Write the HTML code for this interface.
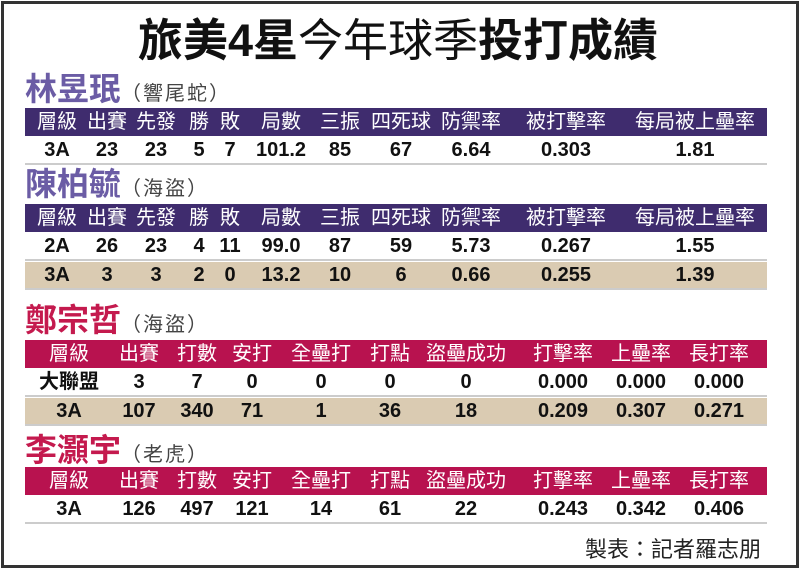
<!DOCTYPE html><html><head><meta charset="utf-8"><style>
body{margin:0;width:800px;height:567px;background:#fff;overflow:hidden;font-family:"Liberation Sans","Noto Sans CJK TC",sans-serif}
.frame{position:absolute;left:1px;top:1px;width:792px;height:561px;border:3px solid #333;}
.a{position:absolute;white-space:nowrap}
.c{position:absolute;transform:translateX(-50%);white-space:nowrap}
.bar{position:absolute;left:25px;width:742px;height:28px}
.pb{background:#3f2c6e}.rb{background:#b8124f}
.bar .c{top:1px;font-size:20px;color:#fff;line-height:26px}
.row{position:absolute;left:25px;width:742px;height:26px;border-bottom:2px solid #ccc}
.tan{background:#dacbb2}
.row .c{font-size:20px;font-weight:bold;line-height:26px;color:#111}
.nm{font-size:32px;font-weight:bold;line-height:34px}
.sub{font-size:20px;color:#444;font-weight:normal;letter-spacing:2px}
</style></head><body>
<div class="frame"></div>
<div class="c" style="left:398px;top:14px;font-size:45px;line-height:54px;color:#111"><b>旅美4星</b>今年球季<b>投打成績</b></div>

<div class="a nm" style="left:25px;top:72px;color:#6b5ca5">林昱珉<span class="sub">（響尾蛇）</span></div>
<div class="bar pb" style="top:108px"><span class="c" style="left:32px">層級</span><span class="c" style="left:82px">出賽</span><span class="c" style="left:131px">先發</span><span class="c" style="left:174px">勝</span><span class="c" style="left:205px">敗</span><span class="c" style="left:256px">局數</span><span class="c" style="left:315px">三振</span><span class="c" style="left:376px">四死球</span><span class="c" style="left:446px">防禦率</span><span class="c" style="left:541px">被打擊率</span><span class="c" style="left:670px">每局被上壘率</span></div>
<div class="row" style="top:137px"><span class="c" style="left:32px">3A</span><span class="c" style="left:82px">23</span><span class="c" style="left:131px">23</span><span class="c" style="left:174px">5</span><span class="c" style="left:205px">7</span><span class="c" style="left:256px">101.2</span><span class="c" style="left:315px">85</span><span class="c" style="left:376px">67</span><span class="c" style="left:446px">6.64</span><span class="c" style="left:541px">0.303</span><span class="c" style="left:670px">1.81</span></div>

<div class="a nm" style="left:25px;top:167px;color:#6b5ca5">陳柏毓<span class="sub">（海盜）</span></div>
<div class="bar pb" style="top:204px"><span class="c" style="left:32px">層級</span><span class="c" style="left:82px">出賽</span><span class="c" style="left:131px">先發</span><span class="c" style="left:174px">勝</span><span class="c" style="left:205px">敗</span><span class="c" style="left:256px">局數</span><span class="c" style="left:315px">三振</span><span class="c" style="left:376px">四死球</span><span class="c" style="left:446px">防禦率</span><span class="c" style="left:541px">被打擊率</span><span class="c" style="left:670px">每局被上壘率</span></div>
<div class="row" style="top:233px"><span class="c" style="left:32px">2A</span><span class="c" style="left:82px">26</span><span class="c" style="left:131px">23</span><span class="c" style="left:174px">4</span><span class="c" style="left:205px">11</span><span class="c" style="left:256px">99.0</span><span class="c" style="left:315px">87</span><span class="c" style="left:376px">59</span><span class="c" style="left:446px">5.73</span><span class="c" style="left:541px">0.267</span><span class="c" style="left:670px">1.55</span></div>
<div class="row tan" style="top:262px"><span class="c" style="left:32px">3A</span><span class="c" style="left:82px">3</span><span class="c" style="left:131px">3</span><span class="c" style="left:174px">2</span><span class="c" style="left:205px">0</span><span class="c" style="left:256px">13.2</span><span class="c" style="left:315px">10</span><span class="c" style="left:376px">6</span><span class="c" style="left:446px">0.66</span><span class="c" style="left:541px">0.255</span><span class="c" style="left:670px">1.39</span></div>

<div class="a nm" style="left:25px;top:303px;color:#c41a4e">鄭宗哲<span class="sub">（海盜）</span></div>
<div class="bar rb" style="top:340px"><span class="c" style="left:44px">層級</span><span class="c" style="left:114px">出賽</span><span class="c" style="left:172px">打數</span><span class="c" style="left:227px">安打</span><span class="c" style="left:296px">全壘打</span><span class="c" style="left:365px">打點</span><span class="c" style="left:441px">盜壘成功</span><span class="c" style="left:538px">打擊率</span><span class="c" style="left:616px">上壘率</span><span class="c" style="left:694px">長打率</span></div>
<div class="row" style="top:369px"><span class="c" style="left:44px">大聯盟</span><span class="c" style="left:114px">3</span><span class="c" style="left:172px">7</span><span class="c" style="left:227px">0</span><span class="c" style="left:296px">0</span><span class="c" style="left:365px">0</span><span class="c" style="left:441px">0</span><span class="c" style="left:538px">0.000</span><span class="c" style="left:616px">0.000</span><span class="c" style="left:694px">0.000</span></div>
<div class="row tan" style="top:398px"><span class="c" style="left:44px">3A</span><span class="c" style="left:114px">107</span><span class="c" style="left:172px">340</span><span class="c" style="left:227px">71</span><span class="c" style="left:296px">1</span><span class="c" style="left:365px">36</span><span class="c" style="left:441px">18</span><span class="c" style="left:538px">0.209</span><span class="c" style="left:616px">0.307</span><span class="c" style="left:694px">0.271</span></div>

<div class="a nm" style="left:25px;top:433px;color:#c41a4e">李灝宇<span class="sub">（老虎）</span></div>
<div class="bar rb" style="top:467px"><span class="c" style="left:44px">層級</span><span class="c" style="left:114px">出賽</span><span class="c" style="left:172px">打數</span><span class="c" style="left:227px">安打</span><span class="c" style="left:296px">全壘打</span><span class="c" style="left:365px">打點</span><span class="c" style="left:441px">盜壘成功</span><span class="c" style="left:538px">打擊率</span><span class="c" style="left:616px">上壘率</span><span class="c" style="left:694px">長打率</span></div>
<div class="row" style="top:496px"><span class="c" style="left:44px">3A</span><span class="c" style="left:114px">126</span><span class="c" style="left:172px">497</span><span class="c" style="left:227px">121</span><span class="c" style="left:296px">14</span><span class="c" style="left:365px">61</span><span class="c" style="left:441px">22</span><span class="c" style="left:538px">0.243</span><span class="c" style="left:616px">0.342</span><span class="c" style="left:694px">0.406</span></div>

<div class="a" style="left:585px;top:532px;font-size:22px;color:#222">製表：記者羅志朋</div>
</body></html>
